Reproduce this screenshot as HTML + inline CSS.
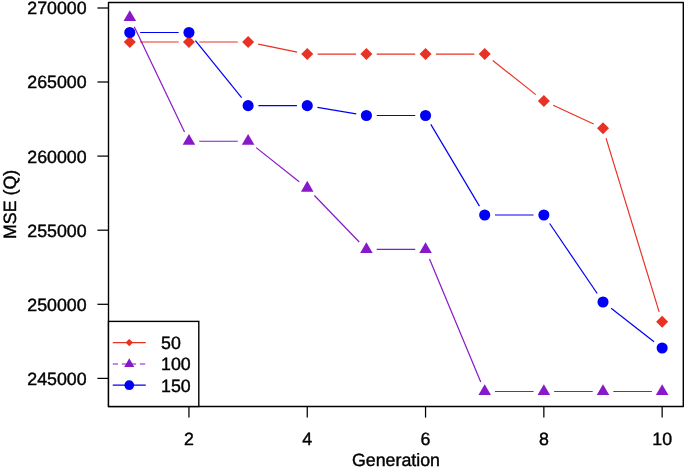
<!DOCTYPE html>
<html><head><meta charset="utf-8"><title>MSE (Q) vs Generation</title>
<style>
html,body{margin:0;padding:0;background:#fff;}
body{width:685px;height:468px;overflow:hidden;}
svg{display:block;will-change:transform;}
.t{font-family:"Liberation Sans",sans-serif;font-size:17.8px;fill:#000;text-rendering:geometricPrecision;stroke:#000;stroke-width:0.4px;}
</style></head><body>
<svg width="685" height="468" viewBox="0 0 685 468">
<rect x="0" y="0" width="685" height="468" fill="#fff"/>
<line x1="140.10" y1="42.00" x2="178.65" y2="42.00" stroke="#e83223" stroke-width="1.2"/>
<line x1="199.25" y1="42.00" x2="237.80" y2="42.00" stroke="#e83223" stroke-width="1.2"/>
<line x1="258.19" y1="44.06" x2="297.16" y2="52.04" stroke="#e83223" stroke-width="1.2"/>
<line x1="317.55" y1="54.10" x2="356.10" y2="54.10" stroke="#e83223" stroke-width="1.2"/>
<line x1="376.70" y1="54.10" x2="415.25" y2="54.10" stroke="#e83223" stroke-width="1.2"/>
<line x1="435.85" y1="54.10" x2="474.40" y2="54.10" stroke="#e83223" stroke-width="1.2"/>
<line x1="492.77" y1="60.50" x2="535.78" y2="94.60" stroke="#e83223" stroke-width="1.2"/>
<line x1="553.20" y1="105.31" x2="593.65" y2="123.94" stroke="#e83223" stroke-width="1.2"/>
<line x1="606.01" y1="138.10" x2="659.14" y2="311.90" stroke="#e83223" stroke-width="1.2"/>
<line x1="134.24" y1="26.79" x2="184.51" y2="131.96" stroke="#8819c9" stroke-width="1.2"/>
<line x1="199.25" y1="141.25" x2="237.80" y2="141.25" stroke="#8819c9" stroke-width="1.2"/>
<line x1="256.17" y1="147.65" x2="299.18" y2="181.70" stroke="#8819c9" stroke-width="1.2"/>
<line x1="314.40" y1="195.51" x2="359.25" y2="241.99" stroke="#8819c9" stroke-width="1.2"/>
<line x1="376.70" y1="249.40" x2="415.25" y2="249.40" stroke="#8819c9" stroke-width="1.2"/>
<line x1="429.51" y1="258.91" x2="480.74" y2="381.99" stroke="#8819c9" stroke-width="1.2"/>
<line x1="495.00" y1="391.50" x2="533.55" y2="391.50" stroke="#8819c9" stroke-width="1.2"/>
<line x1="554.15" y1="391.50" x2="592.70" y2="391.50" stroke="#8819c9" stroke-width="1.2"/>
<line x1="613.30" y1="391.50" x2="651.85" y2="391.50" stroke="#8819c9" stroke-width="1.2"/>
<line x1="140.10" y1="32.50" x2="178.65" y2="32.50" stroke="#0000f4" stroke-width="1.2"/>
<line x1="195.43" y1="40.51" x2="241.62" y2="97.64" stroke="#0000f4" stroke-width="1.2"/>
<line x1="258.40" y1="105.65" x2="296.95" y2="105.65" stroke="#0000f4" stroke-width="1.2"/>
<line x1="317.41" y1="107.34" x2="356.24" y2="113.81" stroke="#0000f4" stroke-width="1.2"/>
<line x1="376.70" y1="115.50" x2="415.25" y2="115.50" stroke="#0000f4" stroke-width="1.2"/>
<line x1="430.81" y1="124.35" x2="479.44" y2="206.15" stroke="#0000f4" stroke-width="1.2"/>
<line x1="495.00" y1="215.00" x2="533.55" y2="215.00" stroke="#0000f4" stroke-width="1.2"/>
<line x1="549.64" y1="223.52" x2="597.21" y2="293.48" stroke="#0000f4" stroke-width="1.2"/>
<line x1="611.13" y1="308.32" x2="654.02" y2="341.68" stroke="#0000f4" stroke-width="1.2"/>
<polygon points="123.80,42.00 129.80,36.00 135.80,42.00 129.80,48.00" fill="#e83223"/>
<polygon points="182.95,42.00 188.95,36.00 194.95,42.00 188.95,48.00" fill="#e83223"/>
<polygon points="242.10,42.00 248.10,36.00 254.10,42.00 248.10,48.00" fill="#e83223"/>
<polygon points="301.25,54.10 307.25,48.10 313.25,54.10 307.25,60.10" fill="#e83223"/>
<polygon points="360.40,54.10 366.40,48.10 372.40,54.10 366.40,60.10" fill="#e83223"/>
<polygon points="419.55,54.10 425.55,48.10 431.55,54.10 425.55,60.10" fill="#e83223"/>
<polygon points="478.70,54.10 484.70,48.10 490.70,54.10 484.70,60.10" fill="#e83223"/>
<polygon points="537.85,101.00 543.85,95.00 549.85,101.00 543.85,107.00" fill="#e83223"/>
<polygon points="597.00,128.25 603.00,122.25 609.00,128.25 603.00,134.25" fill="#e83223"/>
<polygon points="656.15,321.75 662.15,315.75 668.15,321.75 662.15,327.75" fill="#e83223"/>
<polygon points="129.80,10.25 136.08,21.12 123.52,21.12" fill="#8819c9"/>
<polygon points="188.95,134.00 195.23,144.87 182.67,144.87" fill="#8819c9"/>
<polygon points="248.10,134.00 254.38,144.87 241.82,144.87" fill="#8819c9"/>
<polygon points="307.25,180.85 313.53,191.72 300.97,191.72" fill="#8819c9"/>
<polygon points="366.40,242.15 372.68,253.02 360.12,253.02" fill="#8819c9"/>
<polygon points="425.55,242.15 431.83,253.02 419.27,253.02" fill="#8819c9"/>
<polygon points="484.70,384.25 490.98,395.12 478.42,395.12" fill="#8819c9"/>
<polygon points="543.85,384.25 550.13,395.12 537.57,395.12" fill="#8819c9"/>
<polygon points="603.00,384.25 609.28,395.12 596.72,395.12" fill="#8819c9"/>
<polygon points="662.15,384.25 668.43,395.12 655.87,395.12" fill="#8819c9"/>
<circle cx="129.80" cy="32.50" r="5.55" fill="#0000f4"/>
<circle cx="188.95" cy="32.50" r="5.55" fill="#0000f4"/>
<circle cx="248.10" cy="105.65" r="5.55" fill="#0000f4"/>
<circle cx="307.25" cy="105.65" r="5.55" fill="#0000f4"/>
<circle cx="366.40" cy="115.50" r="5.55" fill="#0000f4"/>
<circle cx="425.55" cy="115.50" r="5.55" fill="#0000f4"/>
<circle cx="484.70" cy="215.00" r="5.55" fill="#0000f4"/>
<circle cx="543.85" cy="215.00" r="5.55" fill="#0000f4"/>
<circle cx="603.00" cy="302.00" r="5.55" fill="#0000f4"/>
<circle cx="662.15" cy="348.00" r="5.55" fill="#0000f4"/>
<rect x="108.5" y="2.5" width="574.8" height="404.0" fill="none" stroke="#000" stroke-width="1.4" stroke-linejoin="round"/>
<line x1="97.4" y1="8.0" x2="108.5" y2="8.0" stroke="#000" stroke-width="1.25"/>
<text x="86.6" y="14" text-anchor="end" class="t">270000</text>
<line x1="97.4" y1="82.0" x2="108.5" y2="82.0" stroke="#000" stroke-width="1.25"/>
<text x="86.6" y="88" text-anchor="end" class="t">265000</text>
<line x1="97.4" y1="156.1" x2="108.5" y2="156.1" stroke="#000" stroke-width="1.25"/>
<text x="86.6" y="163" text-anchor="end" class="t">260000</text>
<line x1="97.4" y1="230.2" x2="108.5" y2="230.2" stroke="#000" stroke-width="1.25"/>
<text x="86.6" y="237" text-anchor="end" class="t">255000</text>
<line x1="97.4" y1="304.3" x2="108.5" y2="304.3" stroke="#000" stroke-width="1.25"/>
<text x="86.6" y="311" text-anchor="end" class="t">250000</text>
<line x1="97.4" y1="378.4" x2="108.5" y2="378.4" stroke="#000" stroke-width="1.25"/>
<text x="86.6" y="385" text-anchor="end" class="t">245000</text>
<line x1="188.95" y1="406.5" x2="188.95" y2="417.6" stroke="#000" stroke-width="1.25"/>
<text x="188.95" y="445" text-anchor="middle" class="t">2</text>
<line x1="307.25" y1="406.5" x2="307.25" y2="417.6" stroke="#000" stroke-width="1.25"/>
<text x="307.25" y="445" text-anchor="middle" class="t">4</text>
<line x1="425.55" y1="406.5" x2="425.55" y2="417.6" stroke="#000" stroke-width="1.25"/>
<text x="425.55" y="445" text-anchor="middle" class="t">6</text>
<line x1="543.85" y1="406.5" x2="543.85" y2="417.6" stroke="#000" stroke-width="1.25"/>
<text x="543.85" y="445" text-anchor="middle" class="t">8</text>
<line x1="662.15" y1="406.5" x2="662.15" y2="417.6" stroke="#000" stroke-width="1.25"/>
<text x="662.15" y="445" text-anchor="middle" class="t">10</text>
<text x="396" y="466" text-anchor="middle" class="t">Generation</text>
<text transform="translate(16,204.4) rotate(-90)" text-anchor="middle" class="t">MSE (Q)</text>
<rect x="108.5" y="321.4" width="90.30000000000001" height="85.10000000000002" fill="#fff" stroke="#000" stroke-width="1.4"/>
<line x1="112.75" y1="342.6" x2="145.75" y2="342.6" stroke="#e83223" stroke-width="1.2"/>
<line x1="112.75" y1="364.0" x2="145.75" y2="364.0" stroke="#8819c9" stroke-width="1.2" stroke-dasharray="5.3 3.75"/>
<line x1="112.75" y1="385.2" x2="145.75" y2="385.2" stroke="#0000f4" stroke-width="1.2"/>
<polygon points="125.55,342.60 129.25,338.90 132.95,342.60 129.25,346.30" fill="#e83223"/>
<polygon points="129.25,358.17 134.30,366.92 124.20,366.92" fill="#8819c9"/>
<circle cx="129.25" cy="385.20" r="4.85" fill="#0000f4"/>
<text x="161.1" y="349" class="t">50</text>
<text x="161.1" y="370" class="t">100</text>
<text x="161.1" y="392" class="t">150</text>
</svg>
</body></html>
